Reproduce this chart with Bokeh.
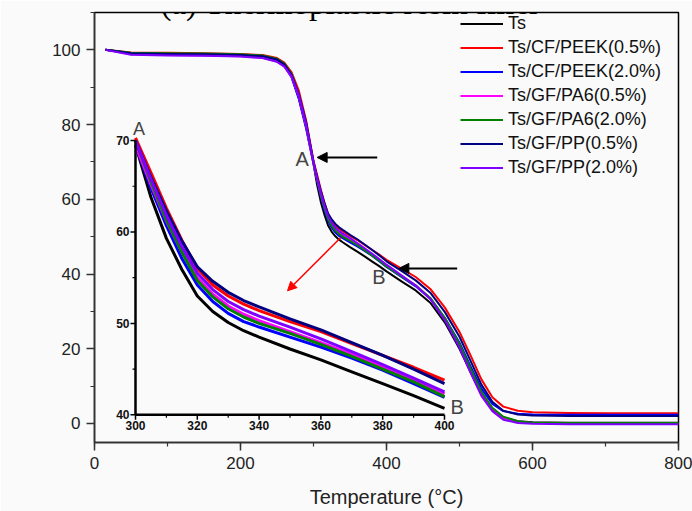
import math
from bokeh.plotting import figure
from bokeh.models import (Range1d, SingleIntervalTicker, Legend, LegendItem, Label,
                          Arrow, NormalHead)
from bokeh.core.properties import value
from bokeh.embed import file_html
from bokeh.resources import INLINE

# ---------------- data ----------------
series_names = ["Ts", "Ts/CF/PEEK(0.5%)", "Ts/CF/PEEK(2.0%)", "Ts/GF/PA6(0.5%)",
                "Ts/GF/PA6(2.0%)", "Ts/GF/PP(0.5%)", "Ts/GF/PP(2.0%)"]
colors = ["#000000", "#ff0000", "#0000ff", "#ff00ff", "#008000", "#000080", "#8000ff"]

temps = [15, 50, 100, 150, 200, 230, 250, 260, 270, 280,
         290, 300, 305, 310, 315, 320, 325, 330, 335, 340,
         350, 360, 370, 380, 390, 400,
         420, 440, 460, 480, 500, 515, 530, 545, 560, 580,
         600, 650, 700, 800]

mass_ts = [100.0, 99.1, 99.0, 98.9, 98.7, 98.3, 97.2, 95.8, 92.8, 87.0,
           79.3, 69.5, 63.8, 59.3, 55.9, 53.0, 51.3, 50.1, 49.2, 48.5,
           47.2, 46.0, 44.7, 43.4, 42.1, 40.7,
           38.1, 35.6, 32.3, 27.0, 20.0, 13.8, 7.8, 3.8, 1.6, 0.6,
           0.3, 0.2, 0.2, 0.2]
mass_cf_peek_05 = [100.0, 99.3, 99.2, 99.1, 98.9, 98.6, 97.8, 96.6, 94.0, 89.0,
                   81.0, 70.3, 66.5, 62.6, 59.1, 56.0, 54.2, 53.0, 52.1, 51.4,
                   50.2, 49.1, 47.8, 46.5, 45.2, 43.8,
                   41.5, 39.2, 36.0, 31.0, 24.5, 18.3, 11.8, 7.0, 4.5, 3.4,
                   3.0, 2.8, 2.7, 2.7]
mass_cf_peek_20 = [100.0, 99.0, 98.8, 98.7, 98.5, 98.1, 97.0, 95.6, 92.6, 86.8,
                   78.8, 69.5, 64.8, 60.7, 57.1, 54.2, 52.4, 51.1, 50.2, 49.6,
                   48.5, 47.4, 46.2, 44.9, 43.4, 41.9,
                   39.3, 36.7, 33.4, 28.2, 21.6, 15.3, 9.3, 5.2, 3.3, 2.6,
                   2.4, 2.3, 2.3, 2.3]
mass_gf_pa6_05 = [100.0, 98.8, 98.6, 98.5, 98.3, 97.9, 96.9, 95.5, 92.8, 87.4,
                  79.5, 69.5, 65.2, 61.2, 57.8, 55.0, 53.2, 51.9, 51.0, 50.3,
                  49.1, 47.9, 46.6, 45.2, 43.8, 42.3,
                  39.6, 37.0, 33.5, 28.0, 20.9, 14.4, 8.2, 4.0, 1.6, 0.5,
                  0.1, 0.0, 0.0, 0.0]
mass_gf_pa6_20 = [100.0, 99.2, 99.1, 99.0, 98.8, 98.5, 97.6, 96.3, 93.5, 88.0,
                  80.2, 70.0, 65.5, 61.3, 57.8, 54.7, 52.9, 51.6, 50.7, 50.0,
                  48.9, 47.7, 46.4, 45.0, 43.6, 42.0,
                  39.4, 36.9, 33.6, 28.2, 21.2, 14.7, 8.5, 4.2, 1.8, 0.6,
                  0.2, 0.1, 0.1, 0.1]
mass_gf_pp_05 = [100.0, 99.1, 98.9, 98.8, 98.6, 98.3, 97.4, 96.1, 93.3, 88.0,
                 80.5, 70.0, 66.0, 62.3, 59.0, 56.2, 54.6, 53.4, 52.5, 51.8,
                 50.5, 49.3, 47.9, 46.5, 45.0, 43.4,
                 40.9, 38.3, 35.0, 29.8, 23.2, 16.8, 10.4, 5.8, 3.4, 2.4,
                 2.1, 2.0, 2.0, 2.0]
mass_gf_pp_20 = [100.0, 98.7, 98.5, 98.4, 98.2, 97.8, 96.8, 95.6, 93.0, 87.8,
                 80.0, 70.0, 65.8, 61.8, 58.4, 55.5, 53.7, 52.4, 51.5, 50.8,
                 49.6, 48.3, 46.9, 45.5, 44.0, 42.5,
                 39.7, 36.9, 33.3, 27.6, 20.3, 13.6, 7.4, 3.3, 1.0, 0.1,
                 -0.1, -0.2, -0.2, -0.2]

# inset: zoom on 300-400 degC
inset_temps = [300, 305, 310, 315, 320, 325, 330, 335, 340, 350, 360, 370, 380, 390, 400]
inset_ts = [69.5, 63.8, 59.3, 55.9, 53.0, 51.3, 50.1, 49.2, 48.5, 47.2, 46.0, 44.7, 43.4, 42.1, 40.7]
inset_cf_peek_05 = [70.3, 66.5, 62.6, 59.1, 56.0, 54.2, 53.0, 52.1, 51.4, 50.2, 49.1, 47.8, 46.5, 45.2, 43.8]
inset_cf_peek_20 = [69.5, 64.8, 60.7, 57.1, 54.2, 52.4, 51.1, 50.2, 49.6, 48.5, 47.4, 46.2, 44.9, 43.4, 41.9]
inset_gf_pa6_05 = [69.5, 65.2, 61.2, 57.8, 55.0, 53.2, 51.9, 51.0, 50.3, 49.1, 47.9, 46.6, 45.2, 43.8, 42.3]
inset_gf_pa6_20 = [70.0, 65.5, 61.3, 57.8, 54.7, 52.9, 51.6, 50.7, 50.0, 48.9, 47.7, 46.4, 45.0, 43.6, 42.0]
inset_gf_pp_05 = [70.0, 66.0, 62.3, 59.0, 56.2, 54.6, 53.4, 52.5, 51.8, 50.5, 49.3, 47.9, 46.5, 45.0, 43.4]
inset_gf_pp_20 = [70.0, 65.8, 61.8, 58.4, 55.5, 53.7, 52.4, 51.5, 50.8, 49.6, 48.3, 46.9, 45.5, 44.0, 42.5]

inset_x_ticks = [300, 320, 340, 360, 380, 400]
inset_x_minor = [310, 330, 350, 370, 390]
inset_y_ticks = [40, 50, 60, 70]
inset_y_minor = [45, 55, 65]

main_series = [mass_ts, mass_cf_peek_05, mass_cf_peek_20, mass_gf_pa6_05,
               mass_gf_pa6_20, mass_gf_pp_05, mass_gf_pp_20]
inset_series = [inset_ts, inset_cf_peek_05, inset_cf_peek_20, inset_gf_pa6_05,
                inset_gf_pa6_20, inset_gf_pp_05, inset_gf_pp_20]

# ---------------- figure ----------------
BG = "#fafafa"
SANS = "Liberation Sans"

p = figure(width=692, height=511, output_backend="svg", toolbar_location=None,
           x_range=Range1d(0, 800), y_range=Range1d(-5.1, 110),
           min_border_left=94, min_border_right=14, min_border_top=12, min_border_bottom=69,
           background_fill_color=BG, border_fill_color=BG)
p.grid.visible = False
p.outline_line_color = "#000000"
p.outline_line_width = 1.5

p.xaxis.ticker = SingleIntervalTicker(interval=200, num_minor_ticks=2)
p.yaxis.ticker = SingleIntervalTicker(interval=20, num_minor_ticks=2)
for ax in (p.xaxis, p.yaxis):
    ax.axis_line_color = "#333333"
    ax.axis_line_width = 1.5
    ax.major_tick_line_color = "#333333"
    ax.minor_tick_line_color = "#333333"
    ax.major_tick_line_width = 1.5
    ax.minor_tick_line_width = 1.2
    ax.major_tick_out = 8
    ax.major_tick_in = 0
    ax.minor_tick_out = 4
    ax.minor_tick_in = 0
    ax.major_label_standoff = 6
    ax.major_label_text_font = SANS
    ax.major_label_text_font_size = "17px"
    ax.major_label_text_color = "#222222"
p.xaxis.axis_label = "Temperature (\u00b0C)"
p.xaxis.axis_label_text_font = SANS
p.xaxis.axis_label_text_font_size = "20px"
p.xaxis.axis_label_text_font_style = "normal"
p.xaxis.axis_label_text_color = "#222222"
p.xaxis.axis_label_standoff = 14

# y axis label placed as a label (it sits a little below the frame centre)
p.add_layout(Label(x=-83.6, y=48.4, text="Mass (%)", angle=math.pi / 2,
                   text_align="center", text_baseline="middle", text_font=SANS,
                   text_font_size="20px", text_color="#222222"))

# title, mostly cut off at the top edge of the picture (as in the original)
p.add_layout(Label(x=350.7, y=112.6, text="(a) Thermoplastic resin filler",
                   text_align="center", text_baseline="alphabetic",
                   text_font="Liberation Serif", text_font_size="33px", text_color="#000000"))

# main curves
items = []
for name, col, ys in zip(series_names, colors, main_series):
    r = p.line(temps, ys, line_color=col, line_width=2, line_join="round")
    items.append(LegendItem(label=name, renderers=[r]))

# ---------------- inset ----------------
p.extra_x_ranges = {"ix": Range1d(286.73, 475.73)}
p.extra_y_ranges = {"iy": Range1d(36.97, 84.01)}
IX = dict(x_range_name="ix", y_range_name="iy")

for col, ys in zip(colors, inset_series):
    p.line(inset_temps, ys, line_color=col, line_width=3, line_join="round", **IX)

x0, x1 = inset_x_ticks[0], inset_x_ticks[-1]
y0, y1 = inset_y_ticks[0], inset_y_ticks[-1]
p.line([x0, x1], [y0, y0], line_color="black", line_width=2.5, **IX)
p.line([x0, x0], [y0, y1], line_color="black", line_width=2.5, **IX)
p.ray(x=inset_x_ticks, y=[y0] * len(inset_x_ticks), length=5, length_units="screen",
      angle=-math.pi / 2, line_color="black", line_width=1.5, **IX)
p.ray(x=inset_x_minor, y=[y0] * len(inset_x_minor), length=3, length_units="screen",
      angle=-math.pi / 2, line_color="black", line_width=1.2, **IX)
p.ray(x=[x0] * len(inset_y_ticks), y=inset_y_ticks, length=5, length_units="screen",
      angle=math.pi, line_color="black", line_width=1.5, **IX)
p.ray(x=[x0] * len(inset_y_minor), y=inset_y_minor, length=3, length_units="screen",
      angle=math.pi, line_color="black", line_width=1.2, **IX)
p.text(x=inset_x_ticks, y=[y0] * len(inset_x_ticks), text=[str(t) for t in inset_x_ticks],
       text_font=value(SANS), text_font_style="bold", text_font_size="12px",
       text_align="center", text_baseline="top", y_offset=6, text_color="#111111", **IX)
p.text(x=[x0] * len(inset_y_ticks), y=inset_y_ticks, text=[str(t) for t in inset_y_ticks],
       text_font=value(SANS), text_font_style="bold", text_font_size="12px",
       text_align="right", text_baseline="middle", x_offset=-6, text_color="#111111", **IX)

p.add_layout(Label(x=301.1, y=71.3, text="A", text_align="center", text_baseline="middle",
                   text_font=SANS, text_font_size="18px", x_range_name="ix", y_range_name="iy"))
p.add_layout(Label(x=404.1, y=40.8, text="B", text_align="center", text_baseline="middle",
                   text_font=SANS, text_font_size="20px", x_range_name="ix", y_range_name="iy"))

# ---------------- annotations on main plot ----------------
p.add_layout(Label(x=284.5, y=70.8, text="A", text_align="center", text_baseline="middle",
                   text_font=SANS, text_font_size="20px"))
p.add_layout(Label(x=389.5, y=39.1, text="B", text_align="center", text_baseline="middle",
                   text_font=SANS, text_font_size="20px"))

p.add_layout(Arrow(x_start=387.3, y_start=71.2, x_end=305.0, y_end=71.2,
                   line_color="black", line_width=2,
                   end=NormalHead(size=10, fill_color="black", line_color="black")))
p.add_layout(Arrow(x_start=496.8, y_start=41.5, x_end=416.9, y_end=41.5,
                   line_color="black", line_width=2,
                   end=NormalHead(size=10, fill_color="black", line_color="black")))
p.add_layout(Arrow(x_start=337.0, y_start=49.7, x_end=264.4, y_end=35.5,
                   line_color="#ff0000", line_width=1.5,
                   end=NormalHead(size=9, fill_color="#ff0000", line_color="#ff0000")))

legend = Legend(items=items, location=(366, 264), border_line_alpha=0,
                background_fill_alpha=0, padding=0, margin=0, spacing=3,
                glyph_width=43, glyph_height=21, label_height=21, label_standoff=5,
                label_text_font=SANS, label_text_font_size="18px", label_text_color="#111111")
p.add_layout(legend)

open("out.html", "w").write(file_html(p, INLINE))
